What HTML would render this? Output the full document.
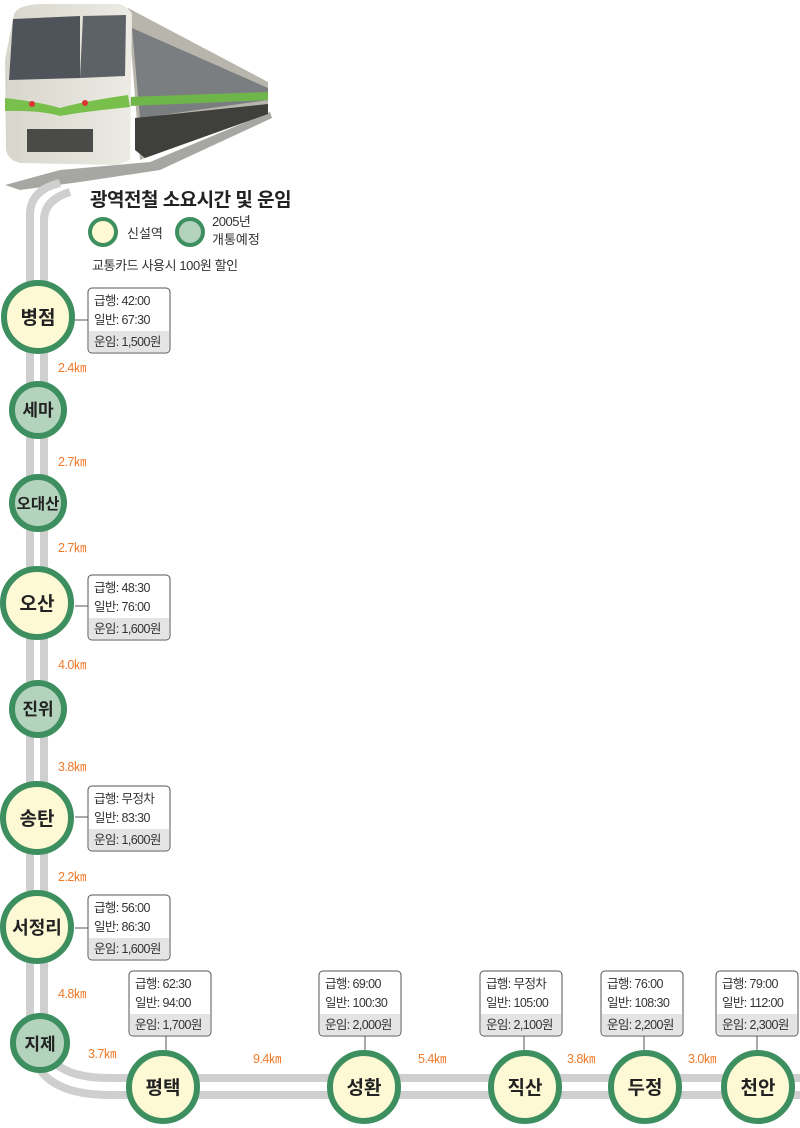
<!DOCTYPE html>
<html><head><meta charset="utf-8"><style>
html,body{margin:0;padding:0;background:#fff;width:800px;height:1128px;overflow:hidden}
svg{display:block}
text{font-family:"Liberation Sans","Noto Sans CJK KR",sans-serif}
.km{fill:#f07a2a;font-size:12.5px;letter-spacing:-0.5px}
.st{font-weight:bold;fill:#222;text-anchor:middle}
.bx{font-size:12.5px;fill:#333;letter-spacing:-0.6px}
</style></head><body>
<svg width="800" height="1128" viewBox="0 0 800 1128">
<defs>
<g id="box">
<rect x="0" y="0" width="82" height="65" rx="4" fill="#fff" stroke="#555" stroke-width="1"/>
<path d="M1 43 H81 V60 Q81 64 77 64 H5 Q1 64 1 60 Z" fill="#e4e4e4"/>
</g>
<linearGradient id="fr" x1="0" y1="0" x2="1" y2="0"><stop offset="0" stop-color="#d8d6cc"/><stop offset="1" stop-color="#ecebe4"/></linearGradient>
</defs>
<!-- shadow of train -->
<path d="M5 185 L60 170 L150 162 L270 112 L272 118 L160 170 L80 182 L20 190 Z" fill="#6a6a66" opacity="0.6"/>
<!-- train side -->
<path d="M128 8 L268 82 L268 112 L140 160 Z" fill="#b8b6ac"/>
<path d="M132 28 L268 88 L268 100 L140 118 Z" fill="#7b7e80"/>
<path d="M135 118 L268 104 L268 114 L145 158 L135 150 Z" fill="#3f3f3c"/>
<path d="M128 97 L268 92 L268 100 L130 106 Z" fill="#6fb64a"/>
<!-- train front -->
<path d="M14 14 Q18 5 40 4 L118 4 Q128 6 132 14 L130 160 L118 165 L20 163 Q8 160 6 150 L5 60 Z" fill="url(#fr)"/>
<path d="M13 19 L80 16 L80 78 L9 80 Z" fill="#4e545a"/>
<path d="M83 16 L126 15 L125 76 L80 78 Z" fill="#5d6266"/>
<path d="M5 98 Q40 102 60 108 Q80 102 128 95 L130 107 Q80 112 60 116 Q40 110 5 111 Z" fill="#79bf4c"/>
<circle cx="32" cy="104" r="3" fill="#d33"/><circle cx="85" cy="103" r="3" fill="#d33"/>
<path d="M27 129 L93 129 L93 152 L27 152 Z" fill="#4a4a48"/>
<!-- track -->
<g fill="none" stroke="#cfcfcf" stroke-width="8">
<path d="M30 1035 L30 215 Q30 190 60 183"/>
<path d="M44 1035 L44 220 Q44 200 70 192"/>
<path d="M30 1035 Q30 1095 110 1095 L800 1095"/>
<path d="M44 1035 Q44 1078 110 1078 L800 1078"/>
</g>
<!-- title / legend -->
<text x="90" y="206" font-size="19" font-weight="bold" fill="#222" letter-spacing="-0.5">광역전철 소요시간 및 운임</text>
<circle cx="103" cy="232" r="13" fill="#fdf9d4" stroke="#3d8f60" stroke-width="4"/>
<text x="127" y="238" font-size="13" fill="#333">신설역</text>
<circle cx="190" cy="232" r="13" fill="#b3d3bd" stroke="#3d8f60" stroke-width="4"/>
<text x="212" y="226" font-size="13" fill="#333" letter-spacing="-0.5">2005년</text>
<text x="212" y="244" font-size="13" fill="#333">개통예정</text>
<text x="92" y="270" font-size="13" fill="#333" letter-spacing="-0.4">교통카드 사용시 100원 할인</text>
<!-- connectors -->
<g stroke="#555" stroke-width="1">
<line x1="75" y1="320" x2="88" y2="320"/>
<line x1="75" y1="606" x2="88" y2="606"/>
<line x1="75" y1="817" x2="88" y2="817"/>
<line x1="75" y1="928" x2="88" y2="928"/>
<line x1="166" y1="1036" x2="166" y2="1050"/>
<line x1="365" y1="1036" x2="365" y2="1050"/>
<line x1="524" y1="1036" x2="524" y2="1050"/>
<line x1="644" y1="1036" x2="644" y2="1050"/>
<line x1="757" y1="1036" x2="757" y2="1050"/>
</g>
<!-- km labels -->
<text class="km" x="58" y="372">2.4㎞</text>
<text class="km" x="58" y="466">2.7㎞</text>
<text class="km" x="58" y="552">2.7㎞</text>
<text class="km" x="58" y="669">4.0㎞</text>
<text class="km" x="58" y="771">3.8㎞</text>
<text class="km" x="58" y="881">2.2㎞</text>
<text class="km" x="58" y="998">4.8㎞</text>
<text class="km" x="88" y="1058">3.7㎞</text>
<text class="km" x="253" y="1063">9.4㎞</text>
<text class="km" x="418" y="1063">5.4㎞</text>
<text class="km" x="567" y="1063">3.8㎞</text>
<text class="km" x="688" y="1063">3.0㎞</text>
<!-- stations -->
<g stroke="#3d8f60" stroke-width="6">
<circle cx="38" cy="317" r="34" fill="#fdf9d4"/>
<circle cx="38" cy="410" r="26" fill="#b3d3bd"/>
<circle cx="38" cy="503" r="26" fill="#b3d3bd"/>
<circle cx="37" cy="603" r="34" fill="#fdf9d4"/>
<circle cx="38" cy="709" r="26" fill="#b3d3bd"/>
<circle cx="37" cy="818" r="34" fill="#fdf9d4"/>
<circle cx="37" cy="927" r="34" fill="#fdf9d4"/>
<circle cx="40" cy="1043" r="27" fill="#b3d3bd"/>
<circle cx="163" cy="1087" r="34" fill="#fdf9d4"/>
<circle cx="364" cy="1087" r="34" fill="#fdf9d4"/>
<circle cx="525" cy="1087" r="34" fill="#fdf9d4"/>
<circle cx="645" cy="1087" r="34" fill="#fdf9d4"/>
<circle cx="758" cy="1087" r="34" fill="#fdf9d4"/>
</g>
<g font-size="19">
<text class="st" x="38" y="324">병점</text>
<text class="st" x="37" y="610">오산</text>
<text class="st" x="37" y="825">송탄</text>
<text class="st" x="37" y="934" font-size="18">서정리</text>
<text class="st" x="163" y="1094">평택</text>
<text class="st" x="364" y="1094">성환</text>
<text class="st" x="525" y="1094">직산</text>
<text class="st" x="645" y="1094">두정</text>
<text class="st" x="758" y="1094">천안</text>
</g>
<g font-size="17">
<text class="st" x="38" y="416">세마</text>
<text class="st" x="38" y="509" font-size="15.5">오대산</text>
<text class="st" x="38" y="715">진위</text>
<text class="st" x="40" y="1050">지제</text>
</g>
<!-- boxes -->
<g transform="translate(88,288)"><use href="#box"/><text class="bx" x="6" y="17">급행: 42:00</text><text class="bx" x="6" y="36">일반: 67:30</text><text class="bx" x="6" y="58">운임: 1,500원</text></g>
<g transform="translate(88,575)"><use href="#box"/><text class="bx" x="6" y="17">급행: 48:30</text><text class="bx" x="6" y="36">일반: 76:00</text><text class="bx" x="6" y="58">운임: 1,600원</text></g>
<g transform="translate(88,786)"><use href="#box"/><text class="bx" x="6" y="17">급행: 무정차</text><text class="bx" x="6" y="36">일반: 83:30</text><text class="bx" x="6" y="58">운임: 1,600원</text></g>
<g transform="translate(88,895)"><use href="#box"/><text class="bx" x="6" y="17">급행: 56:00</text><text class="bx" x="6" y="36">일반: 86:30</text><text class="bx" x="6" y="58">운임: 1,600원</text></g>
<g transform="translate(129,971)"><use href="#box"/><text class="bx" x="6" y="17">급행: 62:30</text><text class="bx" x="6" y="36">일반: 94:00</text><text class="bx" x="6" y="58">운임: 1,700원</text></g>
<g transform="translate(319,971)"><use href="#box"/><text class="bx" x="6" y="17">급행: 69:00</text><text class="bx" x="6" y="36">일반: 100:30</text><text class="bx" x="6" y="58">운임: 2,000원</text></g>
<g transform="translate(480,971)"><use href="#box"/><text class="bx" x="6" y="17">급행: 무정차</text><text class="bx" x="6" y="36">일반: 105:00</text><text class="bx" x="6" y="58">운임: 2,100원</text></g>
<g transform="translate(601,971)"><use href="#box"/><text class="bx" x="6" y="17">급행: 76:00</text><text class="bx" x="6" y="36">일반: 108:30</text><text class="bx" x="6" y="58">운임: 2,200원</text></g>
<g transform="translate(716,971)"><use href="#box"/><text class="bx" x="6" y="17">급행: 79:00</text><text class="bx" x="6" y="36">일반: 112:00</text><text class="bx" x="6" y="58">운임: 2,300원</text></g>
</svg>
</body></html>
